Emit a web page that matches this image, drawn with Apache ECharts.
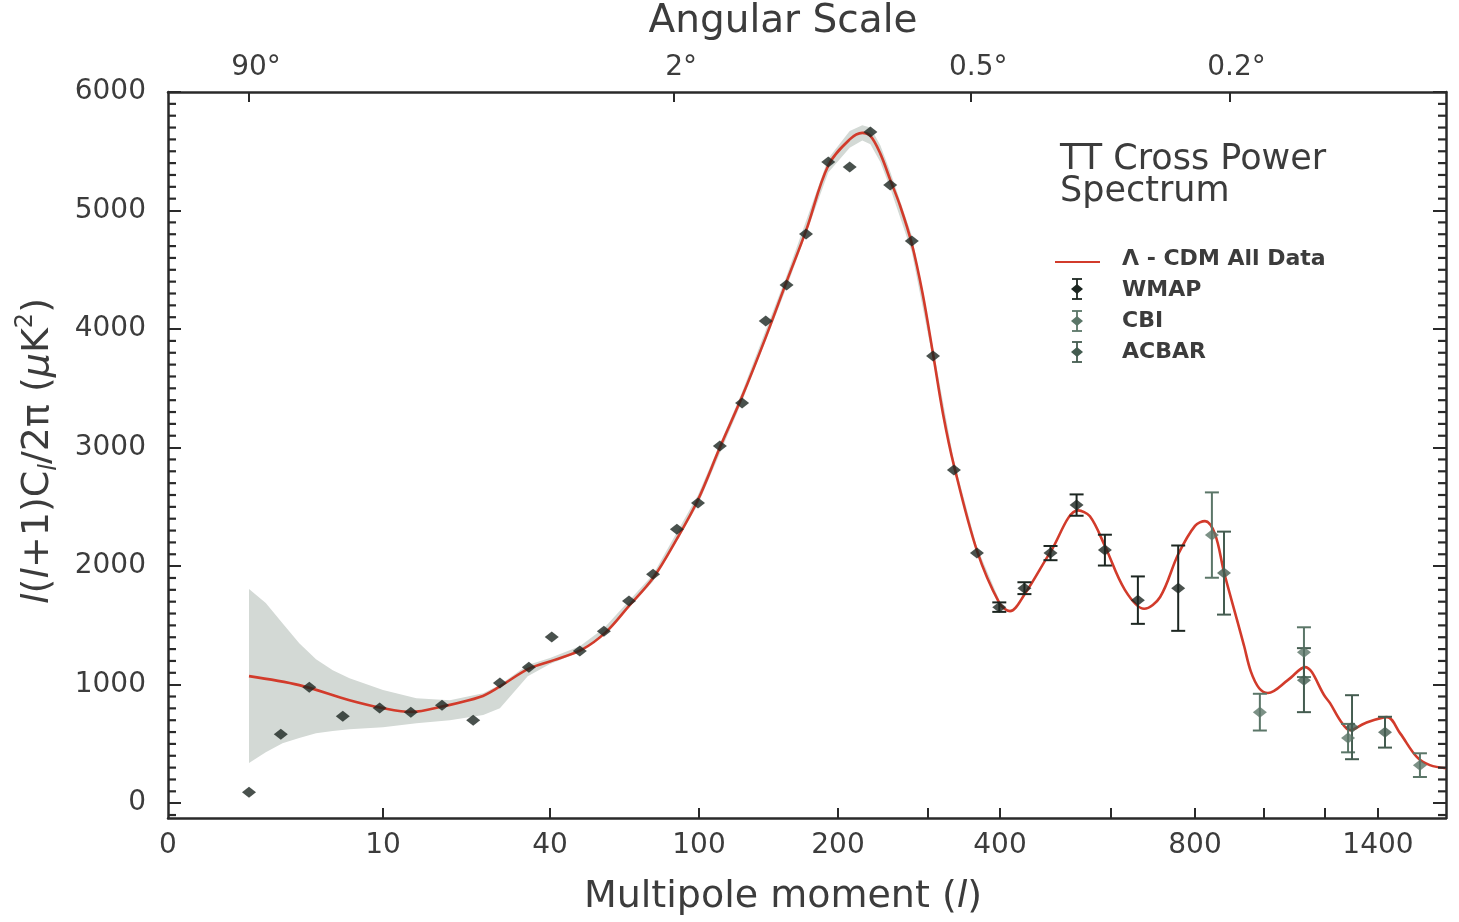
<!DOCTYPE html>
<html><head><meta charset="utf-8">
<script src="https://cdn.jsdelivr.net/npm/echarts@6/dist/echarts.min.js"></script>
<style>html,body{margin:0;padding:0;background:#fff}#c{width:1459px;height:922px}</style>
</head><body><div id="c"></div>
<script>
// ---- x scale of the figure (stretched multipole axis): l -> axis units ----
const SCALE_L = [0, 2, 10, 40, 100, 200, 300, 400, 600, 800, 1000, 1200, 1400, 1700];
const SCALE_U = [0, 81, 215, 382, 531, 670, 760, 832, 943, 1027, 1096, 1157, 1210, 1278];

// ---- tick labels ----
const BOTTOM_TICKS = [10, 40, 100, 200, 300, 400, 600, 800, 1000, 1200, 1400];
const BOTTOM_LABELS = [0, 10, 40, 100, 200, 400, 800, 1400];
const TOP_TICKS_L = [2, 90, 360, 900];
const TOP_LABELS = ['90°', '2°', '0.5°', '0.2°'];
const Y_LABELS = [0, 1000, 2000, 3000, 4000, 5000, 6000];

// ---- Lambda-CDM model curve ----
const MODEL_L = [2, 5, 8, 10, 15.2, 20.6, 27.4, 31, 36.2, 41.6, 53.2, 62.5, 71.4, 81.5, 91.1, 99.6, 115, 131, 148, 163, 177, 193, 213, 227, 236, 247, 258, 269, 282, 294, 307, 321, 336, 368, 399, 418, 444, 491, 541, 562, 589, 633, 679, 717, 760, 800, 829, 858, 884, 922, 942, 962, 986, 1013, 1079, 1134, 1200, 1219, 1260, 1294, 1351, 1440, 1497, 1572, 1629, 1700];
const MODEL_D = [1072, 996, 869, 802, 770, 815, 895, 985, 1135, 1207, 1300, 1443, 1654, 1899, 2230, 2560, 3000, 3430, 3930, 4400, 4830, 5380, 5600, 5655, 5630, 5480, 5260, 5040, 4720, 4300, 3790, 3280, 2850, 2130, 1690, 1620, 1760, 2120, 2470, 2420, 2170, 1800, 1640, 1740, 2100, 2340, 2380, 2270, 1950, 1544, 1330, 1110, 970, 930, 1040, 1148, 900, 844, 690, 616, 675, 726, 591, 388, 321, 295];

// ---- model uncertainty band ----
const BAND_L  = [2, 3, 4, 5, 6, 7, 8, 10, 16, 22, 28, 31, 36, 40, 52, 61.7, 81.5, 99.6, 131, 163, 193, 213, 227, 236, 247, 258, 282, 307, 336, 368, 399];
const BAND_HI = [1806, 1688, 1519, 1350, 1215, 1122, 1055, 954, 886, 869, 928, 1000, 1165, 1225, 1325, 1475, 1930, 2600, 3470, 4450, 5440, 5670, 5720, 5700, 5550, 5330, 4790, 3840, 2890, 2160, 1715];
const BAND_LO = [338, 430, 506, 549, 591, 610, 624, 641, 675, 700, 743, 800, 1070, 1175, 1275, 1425, 1870, 2520, 3390, 4350, 5320, 5530, 5590, 5560, 5410, 5190, 4650, 3740, 2810, 2100, 1665];

// ---- WMAP ----
const WMAP_L = [2, 3.9, 5.6, 7.6, 9.8, 15, 20.6, 26.2, 31, 36.2, 40.7, 52, 61.7, 71.8, 81.5, 91.1, 99.6, 115, 131, 148, 163, 177, 193, 213, 236, 258, 282, 307, 336, 368, 399, 444, 491, 538, 589, 664, 760];
const WMAP_D = [93, 582, 979, 734, 802, 768, 827, 700, 1013, 1147, 1401, 1283, 1451, 1705, 1932, 2312, 2532, 3013, 3376, 4068, 4371, 4802, 5409, 5367, 5662, 5215, 4743, 3772, 2810, 2110, 1654, 1814, 2110, 2515, 2135, 1713, 1814];
const WMAP_E = [0, 0, 0, 0, 0, 0, 0, 0, 0, 0, 0, 0, 0, 0, 0, 0, 0, 0, 0, 0, 0, 0, 0, 0, 0, 0, 0, 0, 0, 0, 40, 50, 60, 90, 130, 200, 360];

// ---- CBI ----
const CBI_L = [849, 988, 1131, 1287, 1585];
const CBI_D = [2262, 768, 1274, 549, 321];
const CBI_E = [360, 155, 210, 120, 100];

// ---- ACBAR ----
const ACBAR_L = [884, 1131, 1302, 1431];
const ACBAR_D = [1941, 1038, 641, 599];
const ACBAR_E = [350, 270, 270, 130];

function lToU(l) {
  for (let i = 1; i < SCALE_L.length; i++) {
    if (l <= SCALE_L[i] || i === SCALE_L.length - 1) {
      const t = (l - SCALE_L[i - 1]) / (SCALE_L[i] - SCALE_L[i - 1]);
      return SCALE_U[i - 1] + t * (SCALE_U[i] - SCALE_U[i - 1]);
    }
  }
}
const UMAX = SCALE_U[SCALE_U.length - 1];
const Y_MIN = -125, Y_MAX = 6000;
const Y_MINOR = [];
for (let v = -100; v <= 6000; v += 100) if (v % 1000 !== 0) Y_MINOR.push(v);

const FONT = 'DejaVu Sans';
const TXT = '#3c3c3c';
const FRAME = '#2a2a2a';
const RED = '#d23b2b';
const C_WMAP = '#1c2621', C_CBI = '#5b7668', C_ACBAR = '#445c50';

function pts(L, D, E) { return L.map((l, i) => E ? [lToU(l), D[i], E[i]] : [lToU(l), D[i]]); }
function labelAt(list, labels) {
  return function (v) {
    for (let i = 0; i < list.length; i++) if (Math.abs(lToU(list[i]) - v) < 0.01) return labels[i];
    return '';
  };
}
function errRender(color) {
  return function (params, api) {
    const u = api.value(0), d = api.value(1), e = api.value(2);
    if (!e) return null;
    const a = api.coord([u, d + e]), b = api.coord([u, d - e]);
    const w = 7, st = { stroke: color, lineWidth: 2 };
    return { type: 'group', children: [
      { type: 'line', shape: { x1: a[0], y1: a[1], x2: b[0], y2: b[1] }, style: st },
      { type: 'line', shape: { x1: a[0] - w, y1: a[1], x2: a[0] + w, y2: a[1] }, style: st },
      { type: 'line', shape: { x1: b[0] - w, y1: b[1], x2: b[0] + w, y2: b[1] }, style: st }
    ] };
  };
}

const chart = echarts.init(document.getElementById('c'), null, { renderer: 'canvas' });
const axisLineStyle = { color: FRAME, width: 2.5 };
const tickStyle = { color: FRAME, width: 2 };
const labelStyle = { fontFamily: FONT, fontSize: 28, color: TXT };

function yMajor(pos, labels) {
  return {
    type: 'value', position: pos, min: Y_MIN, max: Y_MAX, splitLine: { show: false },
    axisLine: { show: true, onZero: false, lineStyle: axisLineStyle },
    axisTick: { show: true, inside: true, length: 13, customValues: Y_LABELS, lineStyle: tickStyle },
    axisLabel: labels
      ? Object.assign({ show: true, margin: 22, customValues: Y_LABELS, formatter: function (v) { return String(v); } }, labelStyle)
      : { show: false }
  };
}

chart.setOption({
  animation: false,
  backgroundColor: '#ffffff',
  grid: { left: 168, right: 13, top: 92, bottom: 104, containLabel: false },
  xAxis: [
    {
      type: 'value', position: 'bottom', min: 0, max: UMAX, splitLine: { show: false },
      axisLine: { show: true, onZero: false, lineStyle: axisLineStyle },
      axisTick: { show: true, inside: true, length: 10, customValues: BOTTOM_TICKS.map(lToU), lineStyle: tickStyle },
      axisLabel: Object.assign({ margin: 14, customValues: BOTTOM_LABELS.map(lToU), formatter: labelAt(BOTTOM_LABELS, BOTTOM_LABELS.map(String)) }, labelStyle)
    },
    {
      type: 'value', position: 'top', min: 0, max: UMAX, splitLine: { show: false },
      axisLine: { show: true, onZero: false, lineStyle: axisLineStyle },
      axisTick: { show: true, inside: true, length: 10, customValues: TOP_TICKS_L.map(lToU), lineStyle: tickStyle },
      axisLabel: Object.assign({ margin: 10, padding: [0, 0, 0, 14], customValues: TOP_TICKS_L.map(lToU), formatter: labelAt(TOP_TICKS_L, TOP_LABELS) }, labelStyle)
    }
  ],
  yAxis: [yMajor('left', true), yMajor('right', false)],
  graphic: [
    { type: 'text', style: { text: 'Angular Scale', x: 783, y: 22, align: 'center', verticalAlign: 'middle', fontFamily: FONT, fontSize: 39, fill: TXT } },
    { type: 'text', style: { text: 'Multipole moment ({i|l})', x: 783, y: 897, align: 'center', verticalAlign: 'middle', fontFamily: FONT, fontSize: 38, fill: TXT,
        rich: { i: { fontFamily: FONT, fontSize: 38, fontStyle: 'italic', fill: TXT } } } },
    { type: 'text', x: 38, y: 451, rotation: Math.PI / 2,
      style: { text: '{i|l}({i|l}+1)C{sub|l}/2π ({i|μ}K{sup|2})', x: 0, y: 0, align: 'center', verticalAlign: 'middle', fontFamily: FONT, fontSize: 38, fill: TXT,
        rich: {
          i: { fontFamily: FONT, fontSize: 38, fontStyle: 'italic', fill: TXT },
          sub: { fontFamily: FONT, fontSize: 24, fontStyle: 'italic', fill: TXT, verticalAlign: 'bottom', lineHeight: 48 },
          sup: { fontFamily: FONT, fontSize: 24, fill: TXT, verticalAlign: 'top', lineHeight: 48 }
        } } },
    { type: 'text', style: { text: 'TT Cross Power\nSpectrum', x: 1060, y: 144, align: 'left', verticalAlign: 'top', fontFamily: FONT, fontSize: 35, lineHeight: 32, fill: TXT } },
    { type: 'line', shape: { x1: 1055, y1: 262, x2: 1100, y2: 262 }, style: { stroke: RED, lineWidth: 2 } },
    { type: 'text', style: { text: 'Λ - CDM All Data', x: 1122, y: 259, align: 'left', verticalAlign: 'middle', fontFamily: FONT, fontSize: 22, fontWeight: 'bold', fill: TXT } },
    { type: 'text', style: { text: 'WMAP', x: 1122, y: 290, align: 'left', verticalAlign: 'middle', fontFamily: FONT, fontSize: 22, fontWeight: 'bold', fill: TXT } },
    { type: 'text', style: { text: 'CBI', x: 1122, y: 321, align: 'left', verticalAlign: 'middle', fontFamily: FONT, fontSize: 22, fontWeight: 'bold', fill: TXT } },
    { type: 'text', style: { text: 'ACBAR', x: 1122, y: 352, align: 'left', verticalAlign: 'middle', fontFamily: FONT, fontSize: 22, fontWeight: 'bold', fill: TXT } }
  ].concat([[289, C_WMAP], [321, C_CBI], [352, C_ACBAR]].map(function (p) {
    const y = p[0], c = p[1];
    return { type: 'group', children: [
      { type: 'line', shape: { x1: 1077, y1: y - 10, x2: 1077, y2: y + 10 }, style: { stroke: c, lineWidth: 1.8 } },
      { type: 'line', shape: { x1: 1072, y1: y - 10, x2: 1082, y2: y - 10 }, style: { stroke: c, lineWidth: 1.8 } },
      { type: 'line', shape: { x1: 1072, y1: y + 10, x2: 1082, y2: y + 10 }, style: { stroke: c, lineWidth: 1.8 } },
      { type: 'polygon', shape: { points: [[1071, y], [1077, y - 5], [1083, y], [1077, y + 5]] }, style: { fill: c } }
    ] };
  })),
  series: [
    {
      type: 'custom', name: 'band', xAxisIndex: 0, yAxisIndex: 0, z: 1, silent: true,
      data: pts(BAND_L, BAND_LO),
      renderItem: function (params, api) {
        if (params.dataIndex !== 0) return null;
        const p = [];
        for (let i = 0; i < BAND_L.length; i++) p.push(api.coord([lToU(BAND_L[i]), BAND_HI[i]]));
        for (let i = BAND_L.length - 1; i >= 0; i--) p.push(api.coord([lToU(BAND_L[i]), BAND_LO[i]]));
        return { type: 'polygon', shape: { points: p }, style: { fill: '#d3d9d5' } };
      }
    },
    {
      type: 'line', name: 'Λ - CDM All Data', xAxisIndex: 0, yAxisIndex: 0, z: 3,
      data: pts(MODEL_L, MODEL_D), smooth: 0.35, showSymbol: false,
      lineStyle: { color: RED, width: 2.6 }
    },
    { type: 'custom', name: 'WMAP err', xAxisIndex: 0, yAxisIndex: 0, z: 4, data: pts(WMAP_L, WMAP_D, WMAP_E), renderItem: errRender(C_WMAP) },
    { type: 'custom', name: 'CBI err', xAxisIndex: 0, yAxisIndex: 0, z: 4, data: pts(CBI_L, CBI_D, CBI_E), renderItem: errRender(C_CBI) },
    { type: 'custom', name: 'ACBAR err', xAxisIndex: 0, yAxisIndex: 0, z: 4, data: pts(ACBAR_L, ACBAR_D, ACBAR_E), renderItem: errRender(C_ACBAR) },
    { type: 'scatter', name: 'WMAP', xAxisIndex: 0, yAxisIndex: 0, z: 5, symbol: 'diamond', symbolSize: [14, 11], itemStyle: { color: C_WMAP }, data: pts(WMAP_L, WMAP_D) },
    { type: 'scatter', name: 'CBI', xAxisIndex: 0, yAxisIndex: 0, z: 5, symbol: 'diamond', symbolSize: [14, 11], itemStyle: { color: C_CBI }, data: pts(CBI_L, CBI_D) },
    { type: 'scatter', name: 'ACBAR', xAxisIndex: 0, yAxisIndex: 0, z: 5, symbol: 'diamond', symbolSize: [14, 11], itemStyle: { color: C_ACBAR }, data: pts(ACBAR_L, ACBAR_D) }
  ]
});

// minor y ticks (every 100) on the left and right frame, placed through the y axis scale
try {
  const zr = chart.getZr();
  const x0 = chart.convertToPixel({ xAxisIndex: 0 }, 0);
  const x1 = chart.convertToPixel({ xAxisIndex: 0 }, UMAX);
  Y_MINOR.forEach(function (v) {
    const y = chart.convertToPixel({ yAxisIndex: 0 }, v);
    [[x0, x0 + 8], [x1 - 8, x1]].forEach(function (s) {
      zr.add(new echarts.graphic.Line({
        shape: { x1: s[0], y1: y, x2: s[1], y2: y },
        style: { stroke: FRAME, lineWidth: 2.2 }, z: 100, silent: true
      }));
    });
  });
} catch (e) { /* keep chart even if ticks cannot be added */ }
</script>
</body></html>
